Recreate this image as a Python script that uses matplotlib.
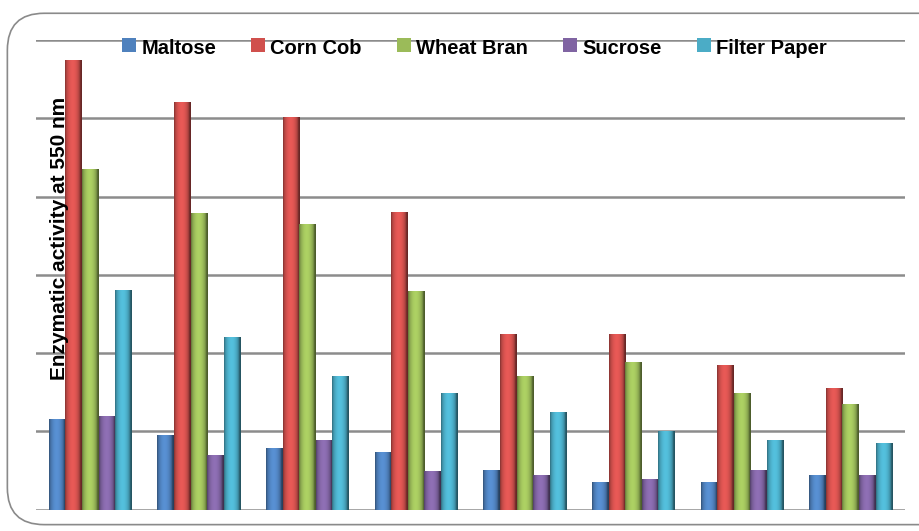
import numpy as np
import matplotlib.pyplot as plt
from matplotlib.colors import to_rgb
from matplotlib.patches import FancyBboxPatch

series = ["Maltose", "Corn Cob", "Wheat Bran", "Sucrose", "Filter Paper"]
colors = ["#4F81BD", "#D0504D", "#9BBB59", "#8064A2", "#4BACC6"]
n_groups = 8

maltose = [1.15, 0.95, 0.79, 0.74, 0.50, 0.35, 0.35, 0.44]
corn_cob = [5.74, 5.20, 5.01, 3.80, 2.24, 2.24, 1.84, 1.55]
wheat_bran = [4.35, 3.79, 3.65, 2.79, 1.70, 1.89, 1.49, 1.35]
sucrose = [1.19, 0.69, 0.89, 0.49, 0.44, 0.39, 0.50, 0.44]
filter_paper = [2.80, 2.20, 1.70, 1.49, 1.24, 1.00, 0.89, 0.85]
values = [maltose, corn_cob, wheat_bran, sucrose, filter_paper]

fig = plt.figure(figsize=(9.2, 5.31), dpi=100)
plt.rcParams["font.family"] = ["Liberation Sans", "DejaVu Sans"]

# rounded frame around the chart area
frame = FancyBboxPatch((0.008, 0.012), 1.05, 0.963,
                       boxstyle="round,pad=0,rounding_size=0.04",
                       transform=fig.transFigure, fill=False,
                       edgecolor="#8a8a8a", linewidth=1.2, mutation_aspect=920/531)
fig.patches.append(frame)

ax = fig.add_axes([36/920, 1 - 509.7/531, (905 - 36)/920, (509.7 - 40)/531])
ax.set_xlim(-0.5, n_groups - 0.5)
ax.set_ylim(0, 6)
for s in ax.spines.values():
    s.set_visible(False)
ax.set_xticks([])
ax.set_yticks([])
for g in range(7):
    ax.axhline(g, color="#8c8c8c", linewidth=1.8, zorder=1)

bar_w = 0.153
x = np.arange(n_groups)

def shade(c):
    # cylinder-like horizontal shading across a bar
    base = np.array(to_rgb(c))
    t = np.linspace(0, 1, 40)
    f = 0.62 + 0.5 * np.sin(np.pi * np.clip(t * 1.1, 0, 1)) ** 0.6
    f = np.where(t > 0.85, f * (1 - (t - 0.85) * 1.5), f)
    img = np.clip(base[None, :] * f[:, None], 0, 1)
    return img[None, :, :]

for i, (vals, c) in enumerate(zip(values, colors)):
    offs = x + (i - 2) * bar_w
    bars = ax.bar(offs, vals, width=bar_w, color=c, zorder=2, label=series[i])
    img = shade(c)
    for b in bars:
        ax.imshow(img, extent=(b.get_x(), b.get_x() + b.get_width(), 0, b.get_height()),
                  aspect="auto", zorder=3, interpolation="bilinear")
ax.set_xlim(-0.5, n_groups - 0.5)
ax.set_ylim(0, 6)

leg = ax.legend(loc="center", bbox_to_anchor=((474.5 - 36) / 869, 1 - 8 / 469.7), ncol=5,
                frameon=False, prop={"weight": "bold", "size": 14.5},
                handlelength=0.5, handleheight=0.5, columnspacing=1.75, handletextpad=0.45,
                borderpad=0.0)
for h in leg.legend_handles:
    h.set_height(10)
    h.set_width(10)

fig.text(60/920, 1 - 238/531, "Enzymatic activity at 550 nm", rotation=90,
         ha="center", va="center", fontsize=15, fontweight="bold", zorder=10)

fig.savefig("out.png", dpi=100)
